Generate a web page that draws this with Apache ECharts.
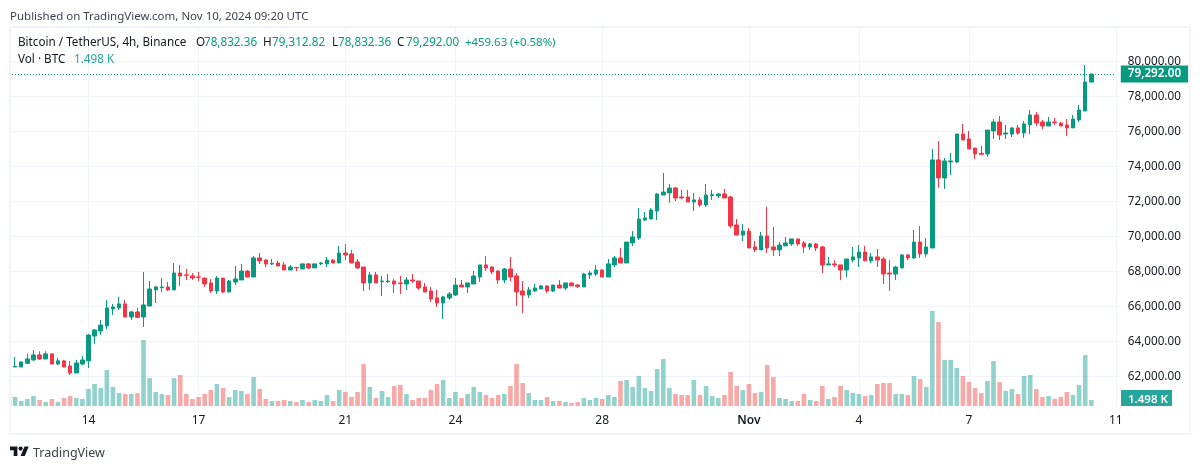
<!DOCTYPE html>
<html>
<head>
<meta charset="utf-8">
<style>
  html, body { margin: 0; padding: 0; background: #fff; }
  #chart { width: 1200px; height: 469px; }
</style>
<script src="https://cdn.jsdelivr.net/npm/echarts@6/dist/echarts.min.js"></script>
</head>
<body>
<div id="chart"></div>
<script>
// 4h candles (first one is Oct 11 20:00, last is Nov 10 08:00)
var opens = [
  63080,62530,62530,62740,62930,63220,62990,63280,62700,62880,
  62590,62190,62700,62880,64300,64590,64880,65850,65910,66140,
  65390,65680,65390,66020,66940,67070,67110,66940,67910,67800,
  67740,67680,67620,67340,66880,67620,66820,67390,67510,68020,
  67680,68770,68650,68420,68480,68370,68080,68230,68140,68430,
  68200,68430,68430,68650,68480,69050,69000,68540,68250,67340,
  67800,67410,67410,67450,67340,67280,67510,67450,67110,66880,
  66480,66190,66480,66650,67220,67110,67280,67680,68370,68250,
  68020,67510,68140,67740,66880,66650,66880,67000,67170,66880,
  67220,67050,67340,67220,67110,67800,67850,68080,67680,68370,
  68770,68480,69630,69910,70940,71000,71460,72370,72490,72770,
  72260,72260,71970,72090,71800,72340,72320,72430,72260,70660,
  70080,70310,69400,69230,70030,69400,69230,69460,69570,69860,
  69630,69400,69570,69400,68370,68430,68370,68080,68650,68770,
  69110,68600,68830,68710,67910,67850,68200,68940,68770,69680,
  69000,69340,74380,73350,74260,74260,75860,75580,75060,74760,
  74720,76040,76550,75860,75860,76210,75920,76380,76950,76550,
  76320,76550,76490,76380,76210,76670,77180,78832.36
];
var closes = [
  62550,62570,62820,62990,63220,62990,63280,62700,62880,62530,
  62190,62760,62930,64360,64650,64930,65910,65960,66140,65390,
  65680,65370,66080,66990,67110,67110,66940,67910,67740,67780,
  67620,67660,67280,66880,67620,66820,67450,67570,68020,67680,
  68770,68600,68420,68460,68310,68080,68250,68200,68430,68200,
  68430,68480,68650,68480,69050,68940,68480,68200,67340,67800,
  67340,67450,67450,67280,67300,67510,67450,67050,66820,66420,
  66190,66540,66710,67220,67110,67340,67740,68370,68200,67970,
  67510,68140,67680,66820,66650,66940,67050,67170,66880,67220,
  67050,67340,67170,67130,67850,67910,68080,67680,68430,68770,
  68480,69680,69970,71000,71060,71510,72430,72540,72770,72200,
  72200,71970,72090,71800,72370,72390,72430,72200,70600,70080,
  70310,69340,69230,70030,69340,69230,69510,69630,69860,69570,
  69400,69570,69340,68370,68430,68370,68080,68710,68830,69110,
  68600,68830,68650,67850,67850,68250,68940,68770,69680,69000,
  69400,74380,73350,74320,74320,75860,75520,75010,74720,74700,
  76090,76550,75810,75920,76210,75920,76440,76950,76490,76320,
  76550,76510,76320,76210,76720,77240,78840,79292
];
var lows = [
  62550,62530,62530,62700,62890,62930,62970,62700,62650,62530,
  62070,62190,62650,62470,63850,64360,64700,65510,65790,65390,
  65220,65340,64820,66020,66190,66820,66880,66940,67170,67510,
  67510,67450,67110,66770,66710,66770,66820,67220,67510,67680,
  67680,68420,68250,68370,68310,68080,68080,68020,68140,68140,
  68200,68370,68250,68480,68480,68650,68480,68140,66880,66940,
  67340,66590,67340,66770,66710,66940,67340,66940,66820,66250,
  65970,65280,66370,66590,67110,66770,67280,67400,68020,67850,
  67280,67340,67450,66020,65620,66480,66820,67000,66770,66820,
  67050,66940,67170,67050,67110,67570,67740,67680,67680,68250,
  68480,68480,69460,69800,70890,71000,70940,72370,71920,72030,
  72140,71970,71460,71690,71690,72090,72200,72200,70490,70080,
  69740,69340,69110,69230,69060,68880,68880,69460,69460,69460,
  69060,69230,69170,67910,68370,68250,67510,67680,68540,68250,
  68600,68480,68250,67280,66880,67510,68200,68650,68710,68770,
  68830,69340,72780,72720,73520,74210,75520,75010,74430,74660,
  74550,75580,75520,75580,75690,75810,75640,75860,76320,76150,
  76320,76380,76320,75750,76210,76550,77180,78832.36
];
var highs = [
  63120,63100,62820,63280,63500,63430,63430,63310,63050,62930,
  62880,62930,63160,64420,64700,65220,66360,66140,66540,66360,
  65740,65910,67970,67450,67170,67620,67390,68480,68370,68140,
  67910,67970,67620,67570,67740,67620,67510,68310,68420,68080,
  68880,69050,68710,68710,68600,68540,68370,68250,68430,68480,
  68430,68540,68830,68710,69460,69570,69230,68710,68250,67970,
  67970,67740,67850,67570,67740,67680,67850,67450,67340,67110,
  66940,66590,66820,67620,67510,67340,68020,68370,68880,68310,
  68080,68200,68830,67910,67450,67110,67280,67220,67170,67220,
  67510,67340,67340,67280,67910,68030,68370,68140,68710,68880,
  69340,69680,70310,71630,71400,71630,72490,73630,73000,72830,
  72660,72660,72490,72260,73000,72660,72490,72720,72320,71000,
  70710,70490,69740,70260,71690,70540,69680,69970,69860,69860,
  69740,69630,69630,69460,68830,68650,68370,68710,69400,69510,
  69460,69060,69280,68830,68650,68310,69000,69000,70370,70600,
  69910,75010,75460,74490,74780,75860,76440,76040,75060,75180,
  76090,76720,76890,76380,76270,76380,76610,77240,77120,76670,
  76840,76780,76550,76720,76950,77520,79810,79312.82
];
// volume in thousands of BTC
var volumes = [
  2.75,2.25,1.25,1.75,2.5,1.5,1,1.75,1,2,
  2.5,2,1.75,4.25,5.5,4.5,9,4.75,3.25,3,
  3,3.25,16.5,7,3.5,3,2.75,7,7.75,3,
  1.75,2.25,3,4,5.5,4.5,2.25,4,3.75,3,
  7.25,4.25,1.75,1.25,1.25,1.5,1.25,1,1.5,1,
  1.5,1.25,2.75,1.25,4,3.5,2.25,3.5,10.5,4.75,
  2,3.75,2.25,5,5.25,3,1.5,2,2,4,
  5.5,6.5,2,3.5,2,3,4.75,3.5,2.75,2,
  2.75,3,5,10.5,5.75,3.25,1.5,1.5,2.25,1.25,
  1.25,1,0.75,1,2,1.5,2,1.75,2.75,2.25,
  6.25,6.5,4.75,7.5,4.5,3.75,9.25,11.75,4.5,3,
  2.75,2.75,6.5,2.75,5,2.5,2,2.75,8.5,5,
  4,5.5,3.25,3.5,10.25,7.25,2,1.75,1.25,1.25,
  3,1.5,1.25,5,1.75,2.25,5,4,3.25,3,
  2.5,2.75,5.5,5.75,5.75,3,3,2.75,7.5,6.75,
  4.75,23.75,21,11.5,11.5,9.5,7.5,6,4.5,3.25,
  6.25,11.25,6,3.75,4.25,3,7.5,7.75,4.25,2.25,
  2.5,1.75,2.25,3.5,2.75,5.25,12.75,1.498
];
// date labels on the time axis and the candle slot each one sits at
var tickSlots = [13, 31, 55, 73, 97, 121, 139, 157, 181];
var tickLabels = ['14', '17', '21', '24', '28', 'Nov', '4', '7', '11'];
var slotCount = 182;
var lastClose = 79292;

var GREEN = '#089981', RED = '#F23645', TEAL = '#26a69a', INK = '#131722', LINE = '#f0f3fa';
var FONT = '"Noto Sans", sans-serif';

var categories = [];
for (var i = 0; i < slotCount; i++) {
  var at = tickSlots.indexOf(i);
  categories.push(at >= 0 ? tickLabels[at] : '');
}
function isTick(i) { return tickSlots.indexOf(i) >= 0; }

var candleData = opens.map(function (o, i) { return [o, closes[i], lows[i], highs[i]]; });
var volumeData = volumes.map(function (v, i) {
  return {
    value: v,
    itemStyle: { color: closes[i] >= opens[i] ? 'rgba(38,166,154,0.5)' : 'rgba(239,83,80,0.5)' }
  };
});

function txt(text, x, y, fill, size, weight) {
  return {
    type: 'text', z: 110, silent: true,
    style: {
      text: text, x: x, y: y, fill: fill, textVerticalAlign: 'middle',
      font: (weight || 400) + ' ' + (size || 11.7) + 'px ' + FONT
    }
  };
}

var option = {
  animation: false,
  backgroundColor: '#fff',
  grid: [
    { left: 9, width: 1106.8, top: 26.75, height: 384.45 },
    { left: 9, width: 1106.8, top: 28, height: 378 }
  ],
  xAxis: [
    {
      type: 'category', gridIndex: 0, data: categories, boundaryGap: false,
      axisLine: { show: false }, axisTick: { show: false }, axisLabel: { show: false }, splitLine: { show: false }
    },
    {
      type: 'category', gridIndex: 1, data: categories, boundaryGap: false,
      axisLine: { show: false }, axisTick: { show: false },
      axisLabel: {
        interval: function (i) { return isTick(i); },
        hideOverlap: false, margin: 9,
        color: INK, fontFamily: FONT, fontSize: 12,
        formatter: function (v) { return v === 'Nov' ? '{m|Nov}' : v; },
        rich: { m: { fontWeight: 600, color: INK, fontFamily: FONT, fontSize: 12 } }
      },
      splitLine: { show: true, interval: function (i) { return isTick(i); }, lineStyle: { color: LINE, width: 1 } }
    }
  ],
  yAxis: [
    {
      type: 'value', gridIndex: 0, position: 'right', min: 60000, max: 82000, interval: 2000,
      axisLine: { show: false },
      axisTick: { show: true, length: 5, lineStyle: { color: LINE } },
      axisLabel: {
        margin: 12, color: INK, fontFamily: FONT, fontSize: 11.7, padding: [2, 0, 0, 0],
        showMinLabel: false, showMaxLabel: false,
        formatter: function (v) { return v.toLocaleString('en-US', { minimumFractionDigits: 2 }); }
      },
      splitLine: { show: true, showMinLine: false, showMaxLine: false, lineStyle: { color: LINE, width: 1 } }
    },
    {
      type: 'value', gridIndex: 1, position: 'right', min: 0, max: 94.5,
      axisLine: { show: true, lineStyle: { color: LINE } },
      axisTick: { show: false }, axisLabel: { show: false }, splitLine: { show: false }
    }
  ],
  series: [
    {
      type: 'bar', name: 'Vol', xAxisIndex: 1, yAxisIndex: 1,
      data: volumeData, barWidth: 4.6
    },
    {
      type: 'candlestick', name: 'BTCUSDT', xAxisIndex: 0, yAxisIndex: 0,
      data: candleData, barWidth: 4,
      itemStyle: { color: GREEN, color0: RED, borderColor: GREEN, borderColor0: RED, borderColorDoji: GREEN, borderWidth: 1 },
      markLine: {
        silent: true, symbol: 'none', animation: false,
        lineStyle: { color: GREEN, type: [1, 2], width: 1, opacity: 1 },
        label: {
          show: true, position: 'end', distance: 5,
          formatter: function () { return lastClose.toLocaleString('en-US', { minimumFractionDigits: 2 }); },
          color: '#fff', fontFamily: FONT, fontSize: 11.7, fontWeight: 600,
          backgroundColor: GREEN, padding: [3, 7, 2, 7]
        },
        data: [{ yAxis: lastClose, lineStyle: { color: GREEN, type: [1, 2], width: 1 } }]
      }
    }
  ],
  graphic: [
    // the first candle and volume bar are cut by the left edge of the pane
    { type: 'rect', z: 99, silent: true, shape: { x: 0, y: 28, width: 10, height: 405 }, style: { fill: '#fff' } },
    // chart frame
    { type: 'rect', z: 100, silent: true, shape: { x: 10, y: 27, width: 1180, height: 407 }, style: { fill: null, stroke: LINE, lineWidth: 2 } },
    txt('Published on TradingView.com, Nov 10, 2024 09:20 UTC', 10, 17, '#3b3f4a', 11.5),
    // legend rows
    txt('Bitcoin / TetherUS, 4h, Binance', 18, 43, INK),
    txt('O', 196, 43, INK), txt('78,832.36', 204, 43, GREEN),
    txt('H', 263, 43, INK), txt('79,312.82', 272, 43, GREEN),
    txt('L', 332, 43, INK), txt('78,832.36', 338, 43, GREEN),
    txt('C', 397, 43, INK), txt('79,292.00', 406, 43, GREEN),
    txt('+459.63 (+0.58%)', 465, 43, GREEN, 11.4),
    txt('Vol \u00b7 BTC', 18, 60, INK),
    txt('1.498 K', 74, 60, TEAL),
    // volume tag on the scale
    { type: 'rect', z: 105, silent: true, shape: { x: 1121, y: 390, width: 51, height: 16 }, style: { fill: TEAL } },
    txt('1.498 K', 1128, 400, '#fff', 11.5, 600),
    // TradingView mark
    { type: 'polygon', z: 110, silent: true, shape: { points: [[10, 446.5], [17.4, 446.5], [17.4, 456], [13.7, 456], [13.7, 450.2], [10, 450.2]] }, style: { fill: INK } },
    { type: 'polygon', z: 110, silent: true, shape: { points: [[20.6, 456], [24.5, 446.5], [28.7, 446.5], [24.8, 456]] }, style: { fill: INK } },
    { type: 'circle', z: 110, silent: true, shape: { cx: 20.6, cy: 448.6, r: 2.1 }, style: { fill: INK } },
    txt('TradingView', 33, 453, '#3b3f4a', 12.5)
  ]
};

var myChart = echarts.init(document.getElementById('chart'));
myChart.setOption(option);
</script>
</body>
</html>
